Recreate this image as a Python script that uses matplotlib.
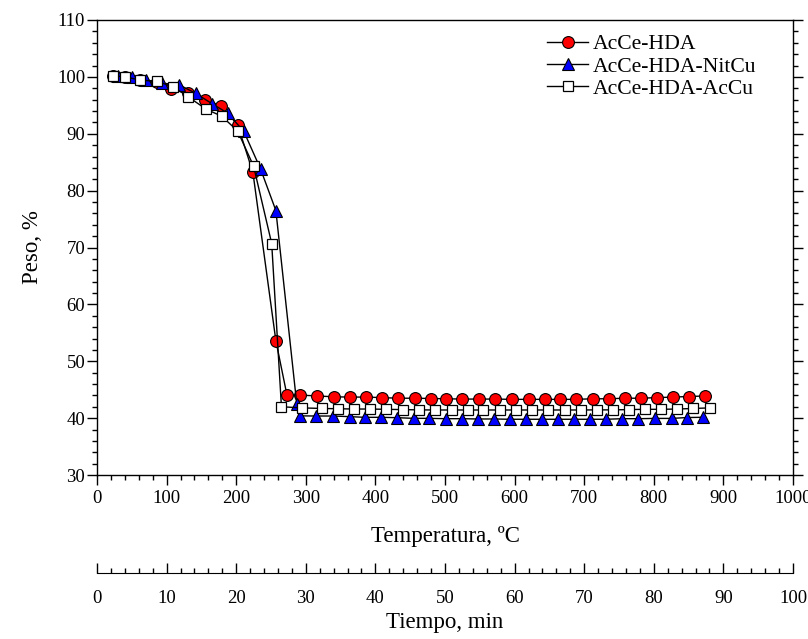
import matplotlib
matplotlib.use("Agg")
import matplotlib.pyplot as plt
from matplotlib.ticker import MultipleLocator

plt.rcParams['font.family'] = ['Liberation Serif', 'DejaVu Serif']

# AcCe-HDA (red circles)
t_hda = [23, 40, 62, 86, 107, 131, 155, 178, 202, 224, 257, 273, 292, 316, 340, 363, 387, 410,
         433, 457, 480, 502, 525, 549, 572, 596, 620, 643, 665, 688, 712, 735, 758, 781, 804,
         827, 851, 874]
w_hda = [100.1, 100.0, 99.5, 99.1, 97.8, 97.1, 96.0, 94.9, 91.6, 83.2, 53.6, 44.0, 44.05, 43.9,
         43.75, 43.7, 43.7, 43.6, 43.5, 43.5, 43.45, 43.4, 43.35, 43.35, 43.35, 43.3, 43.3, 43.3,
         43.3, 43.3, 43.4, 43.4, 43.5, 43.5, 43.6, 43.7, 43.8, 43.9]

# AcCe-HDA-NitCu (blue triangles)
t_nit = [30, 50, 71, 93, 118, 142, 165, 188, 211, 235, 257, 287, 291, 315, 339, 363, 385, 408,
         431, 455, 477, 501, 524, 547, 570, 593, 616, 640, 663, 686, 709, 732, 755, 778, 802,
         826, 847, 871]
w_nit = [100.2, 100.0, 99.45, 98.9, 98.6, 97.1, 95.3, 93.6, 90.4, 83.8, 76.5, 42.5, 40.4, 40.37,
         40.37, 40.26, 40.14, 40.14, 40.08, 39.96, 39.96, 39.9, 39.9, 39.85, 39.85, 39.8, 39.8,
         39.8, 39.8, 39.8, 39.8, 39.8, 39.9, 39.9, 39.95, 39.95, 40.1, 40.15]

# AcCe-HDA-AcCu (white squares)
t_acu = [23, 40, 62, 86, 109, 131, 157, 179, 202, 225, 251, 265, 294, 323, 346, 369, 392, 415,
         439, 463, 486, 510, 533, 555, 579, 602, 625, 648, 672, 695, 718, 741, 764, 787, 810,
         834, 857, 881]
w_acu = [100.2, 100.0, 99.45, 99.2, 98.3, 96.5, 94.3, 93.1, 90.5, 84.3, 70.7, 42.0, 41.8, 41.7,
         41.65, 41.6, 41.6, 41.55, 41.5, 41.45, 41.43, 41.43, 41.43, 41.43, 41.43, 41.43, 41.43,
         41.43, 41.43, 41.43, 41.45, 41.45, 41.5, 41.55, 41.55, 41.6, 41.7, 41.8]

fig = plt.figure(figsize=(8.08, 6.39), dpi=100)
ax = fig.add_axes([97/808, 1 - 475/639, 696/808, 455/639])

ax.plot(t_hda, w_hda, '-', color='black', lw=1.0, marker='o', ms=8.5, mfc='#ff0000',
        mec='black', mew=0.8, label='AcCe-HDA', zorder=3)
ax.plot(t_nit, w_nit, '-', color='black', lw=1.0, marker='^', ms=8.5, mfc='#0000ff',
        mec='black', mew=0.8, label='AcCe-HDA-NitCu', zorder=4)
ax.plot(t_acu, w_acu, '-', color='black', lw=1.0, marker='s', ms=6.8, mfc='white',
        mec='black', mew=0.9, label='AcCe-HDA-AcCu', zorder=5)

ax.set_xlim(0, 1000)
ax.set_ylim(30, 110)
ax.xaxis.set_major_locator(MultipleLocator(100))
ax.xaxis.set_minor_locator(MultipleLocator(20))
ax.yaxis.set_major_locator(MultipleLocator(10))
ax.yaxis.set_minor_locator(MultipleLocator(2))
ax.tick_params(axis='both', which='both', direction='out', labelsize=13.5, width=1.0)
ax.tick_params(axis='both', which='major', length=7)
ax.tick_params(axis='both', which='minor', length=3.6)
ax.tick_params(axis='y', which='both', right=True, labelright=False, pad=1.5)
for s in ax.spines.values():
    s.set_linewidth(1.0)

ax.set_xlabel('Temperatura, ºC', fontsize=16.5, labelpad=14)
ax.set_ylabel('Peso, %', fontsize=16.5, labelpad=10)

leg = ax.legend(loc='upper right', bbox_to_anchor=(0.975, 1.012), frameon=False, fontsize=15.6,
                handlelength=1.9, handletextpad=0.2, labelspacing=0.1)

sec = ax.secondary_xaxis('bottom', functions=(lambda x: x / 10.0, lambda x: x * 10.0))
sec.spines['bottom'].set_position(('outward', 98 * 72 / 100))
sec.xaxis.set_major_locator(MultipleLocator(10))
sec.xaxis.set_minor_locator(MultipleLocator(2))
sec.tick_params(axis='x', which='both', direction='in', labelsize=13.5, width=1.0, pad=12)
sec.tick_params(axis='x', which='major', length=7)
sec.tick_params(axis='x', which='minor', length=3.6)
sec.set_xlabel('Tiempo, min', fontsize=16.5, labelpad=4)

fig.savefig('out.png', dpi=100)
